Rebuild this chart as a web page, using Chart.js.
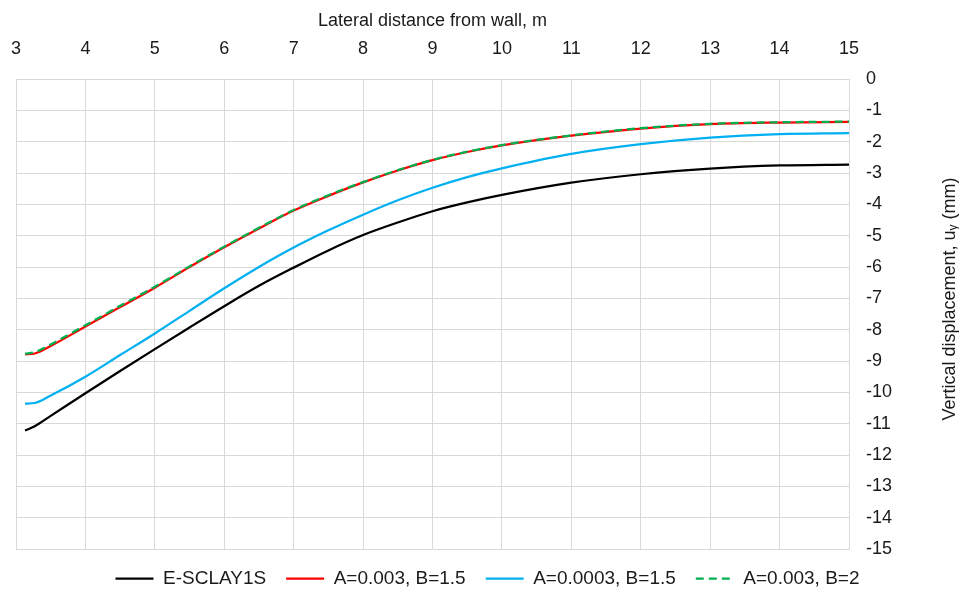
<!DOCTYPE html>
<html>
<head>
<meta charset="utf-8">
<script src="https://cdn.jsdelivr.net/npm/chart.js@4.4.0/dist/chart.umd.min.js"></script>
<style>
  html, body { margin: 0; padding: 0; background: #ffffff; overflow: hidden; }
  #c { display: block; }
</style>
</head>
<body>
<canvas id="c" width="959" height="601"></canvas>
<script>
// ---- data ----
const distances = [3.13, 3.27, 3.5, 4, 4.5, 5, 5.5, 6, 6.5, 7, 7.5, 8, 8.5, 9, 9.5, 10, 11, 12, 13, 14, 15];
const eSclay = [-11.22, -11.08, -10.75, -10.03, -9.32, -8.62, -7.93, -7.25, -6.6, -6.02, -5.47, -4.98, -4.58, -4.22, -3.94, -3.70, -3.31, -3.04, -2.86, -2.76, -2.73];
const a003b15 = [-8.79, -8.76, -8.52, -7.9, -7.28, -6.66, -6.0, -5.37, -4.77, -4.2, -3.73, -3.3, -2.92, -2.59, -2.33, -2.12, -1.81, -1.58, -1.44, -1.39, -1.37];
const a0003b15 = [-10.36, -10.34, -10.1, -9.5, -8.81, -8.12, -7.4, -6.68, -6.0, -5.38, -4.83, -4.33, -3.87, -3.47, -3.13, -2.85, -2.39, -2.08, -1.87, -1.76, -1.73];
const a003b2 = [-8.77, -8.72, -8.47, -7.86, -7.24, -6.63, -5.98, -5.35, -4.75, -4.18, -3.71, -3.29, -2.91, -2.58, -2.32, -2.11, -1.80, -1.57, -1.43, -1.38, -1.36];
const seriesNames = ['E-SCLAY1S', 'A=0.003, B=1.5', 'A=0.0003, B=1.5', 'A=0.003, B=2'];
const xTitle = 'Lateral distance from wall, m';
const yTitleMain = 'Vertical displacement, u';
const yTitleSub = 'y';
const yTitleEnd = ' (mm)';
const xMin = 3, xMax = 15, yMin = -15, yMax = 0;

const FONT = '"Liberation Sans", Arial, sans-serif';
const TXT = '#1a1a1a';
const GRID = '#d9d9d9';

function pts(ys) { return distances.map((x, i) => ({ x: x, y: ys[i] })); }

const yTitlePlugin = {
  id: 'yTitle',
  afterDraw(chart) {
    const ctx = chart.ctx;
    ctx.save();
    ctx.fillStyle = TXT;
    ctx.textBaseline = 'middle';
    ctx.textAlign = 'left';
    const mainFont = '18px ' + FONT;
    const subFont = '12px ' + FONT;
    ctx.font = mainFont;
    const w1 = ctx.measureText(yTitleMain).width;
    const w3 = ctx.measureText(yTitleEnd).width;
    ctx.font = subFont;
    const w2 = ctx.measureText(yTitleSub).width;
    const total = w1 + w2 + w3;
    const cx = 950, cy = 299;
    ctx.translate(cx, cy);
    ctx.rotate(-Math.PI / 2);
    let x = -total / 2;
    ctx.font = mainFont;
    ctx.fillText(yTitleMain, x, 0);
    x += w1;
    ctx.font = subFont;
    ctx.fillText(yTitleSub, x, 4);
    x += w2;
    ctx.font = mainFont;
    ctx.fillText(yTitleEnd, x, 0);
    ctx.restore();
  }
};

const mk = (label, data, color, order, dash) => ({
  label: label,
  data: pts(data),
  borderColor: color,
  backgroundColor: color,
  borderWidth: 2.25,
  borderDash: dash || [],
  pointRadius: 0,
  pointHoverRadius: 0,
  fill: false,
  cubicInterpolationMode: 'monotone',
  order: order
});

new Chart(document.getElementById('c'), {
  type: 'line',
  data: {
    datasets: [
      mk(seriesNames[0], eSclay, '#000000', 3),
      mk(seriesNames[1], a003b15, '#ff0000', 1),
      mk(seriesNames[2], a0003b15, '#00b0f0', 2),
      mk(seriesNames[3], a003b2, '#00b050', 0, [8, 5])
    ]
  },
  options: {
    responsive: false,
    animation: false,
    devicePixelRatio: 1,
    layout: { padding: { left: 16, right: 0, top: 0, bottom: 3 } },
    plugins: {
      legend: {
        position: 'bottom',
        labels: {
          usePointStyle: true,
          pointStyle: 'line',
          pointStyleWidth: 38,
          padding: 20,
          color: TXT,
          font: { family: FONT, size: 19 },
          sort: (a, b) => a.datasetIndex - b.datasetIndex,
          generateLabels: (chart) => {
            const items = Chart.defaults.plugins.legend.labels.generateLabels(chart);
            items.forEach(it => {
              const ds = chart.data.datasets[it.datasetIndex];
              it.lineDash = ds.borderDash || [];
              it.lineWidth = ds.borderWidth;
              it.strokeStyle = ds.borderColor;
            });
            return items;
          }
        }
      },
      tooltip: { enabled: false }
    },
    scales: {
      x: {
        type: 'linear',
        position: 'top',
        min: xMin, max: xMax,
        afterFit: s => { s.height = 79; s.paddingLeft = 0; s.paddingRight = 0; },
        ticks: { stepSize: 1, color: TXT, font: { family: FONT, size: 18 }, padding: 19, maxRotation: 0, autoSkip: false },
        grid: { color: GRID, lineWidth: 1, drawTicks: false },
        border: { color: GRID, width: 1 },
        title: { display: true, text: xTitle, color: TXT, font: { family: FONT, size: 18 }, padding: { top: 10, bottom: 0 } }
      },
      y: {
        type: 'linear',
        position: 'right',
        min: yMin, max: yMax,
        afterFit: s => { s.width = 110; s.paddingTop = 0; s.paddingBottom = 0; },
        ticks: { stepSize: 1, color: TXT, font: { family: FONT, size: 18 }, padding: 17, autoSkip: false },
        grid: { color: GRID, lineWidth: 1, drawTicks: false },
        border: { color: GRID, width: 1 }
      }
    }
  },
  plugins: [yTitlePlugin]
});
</script>
</body>
</html>
